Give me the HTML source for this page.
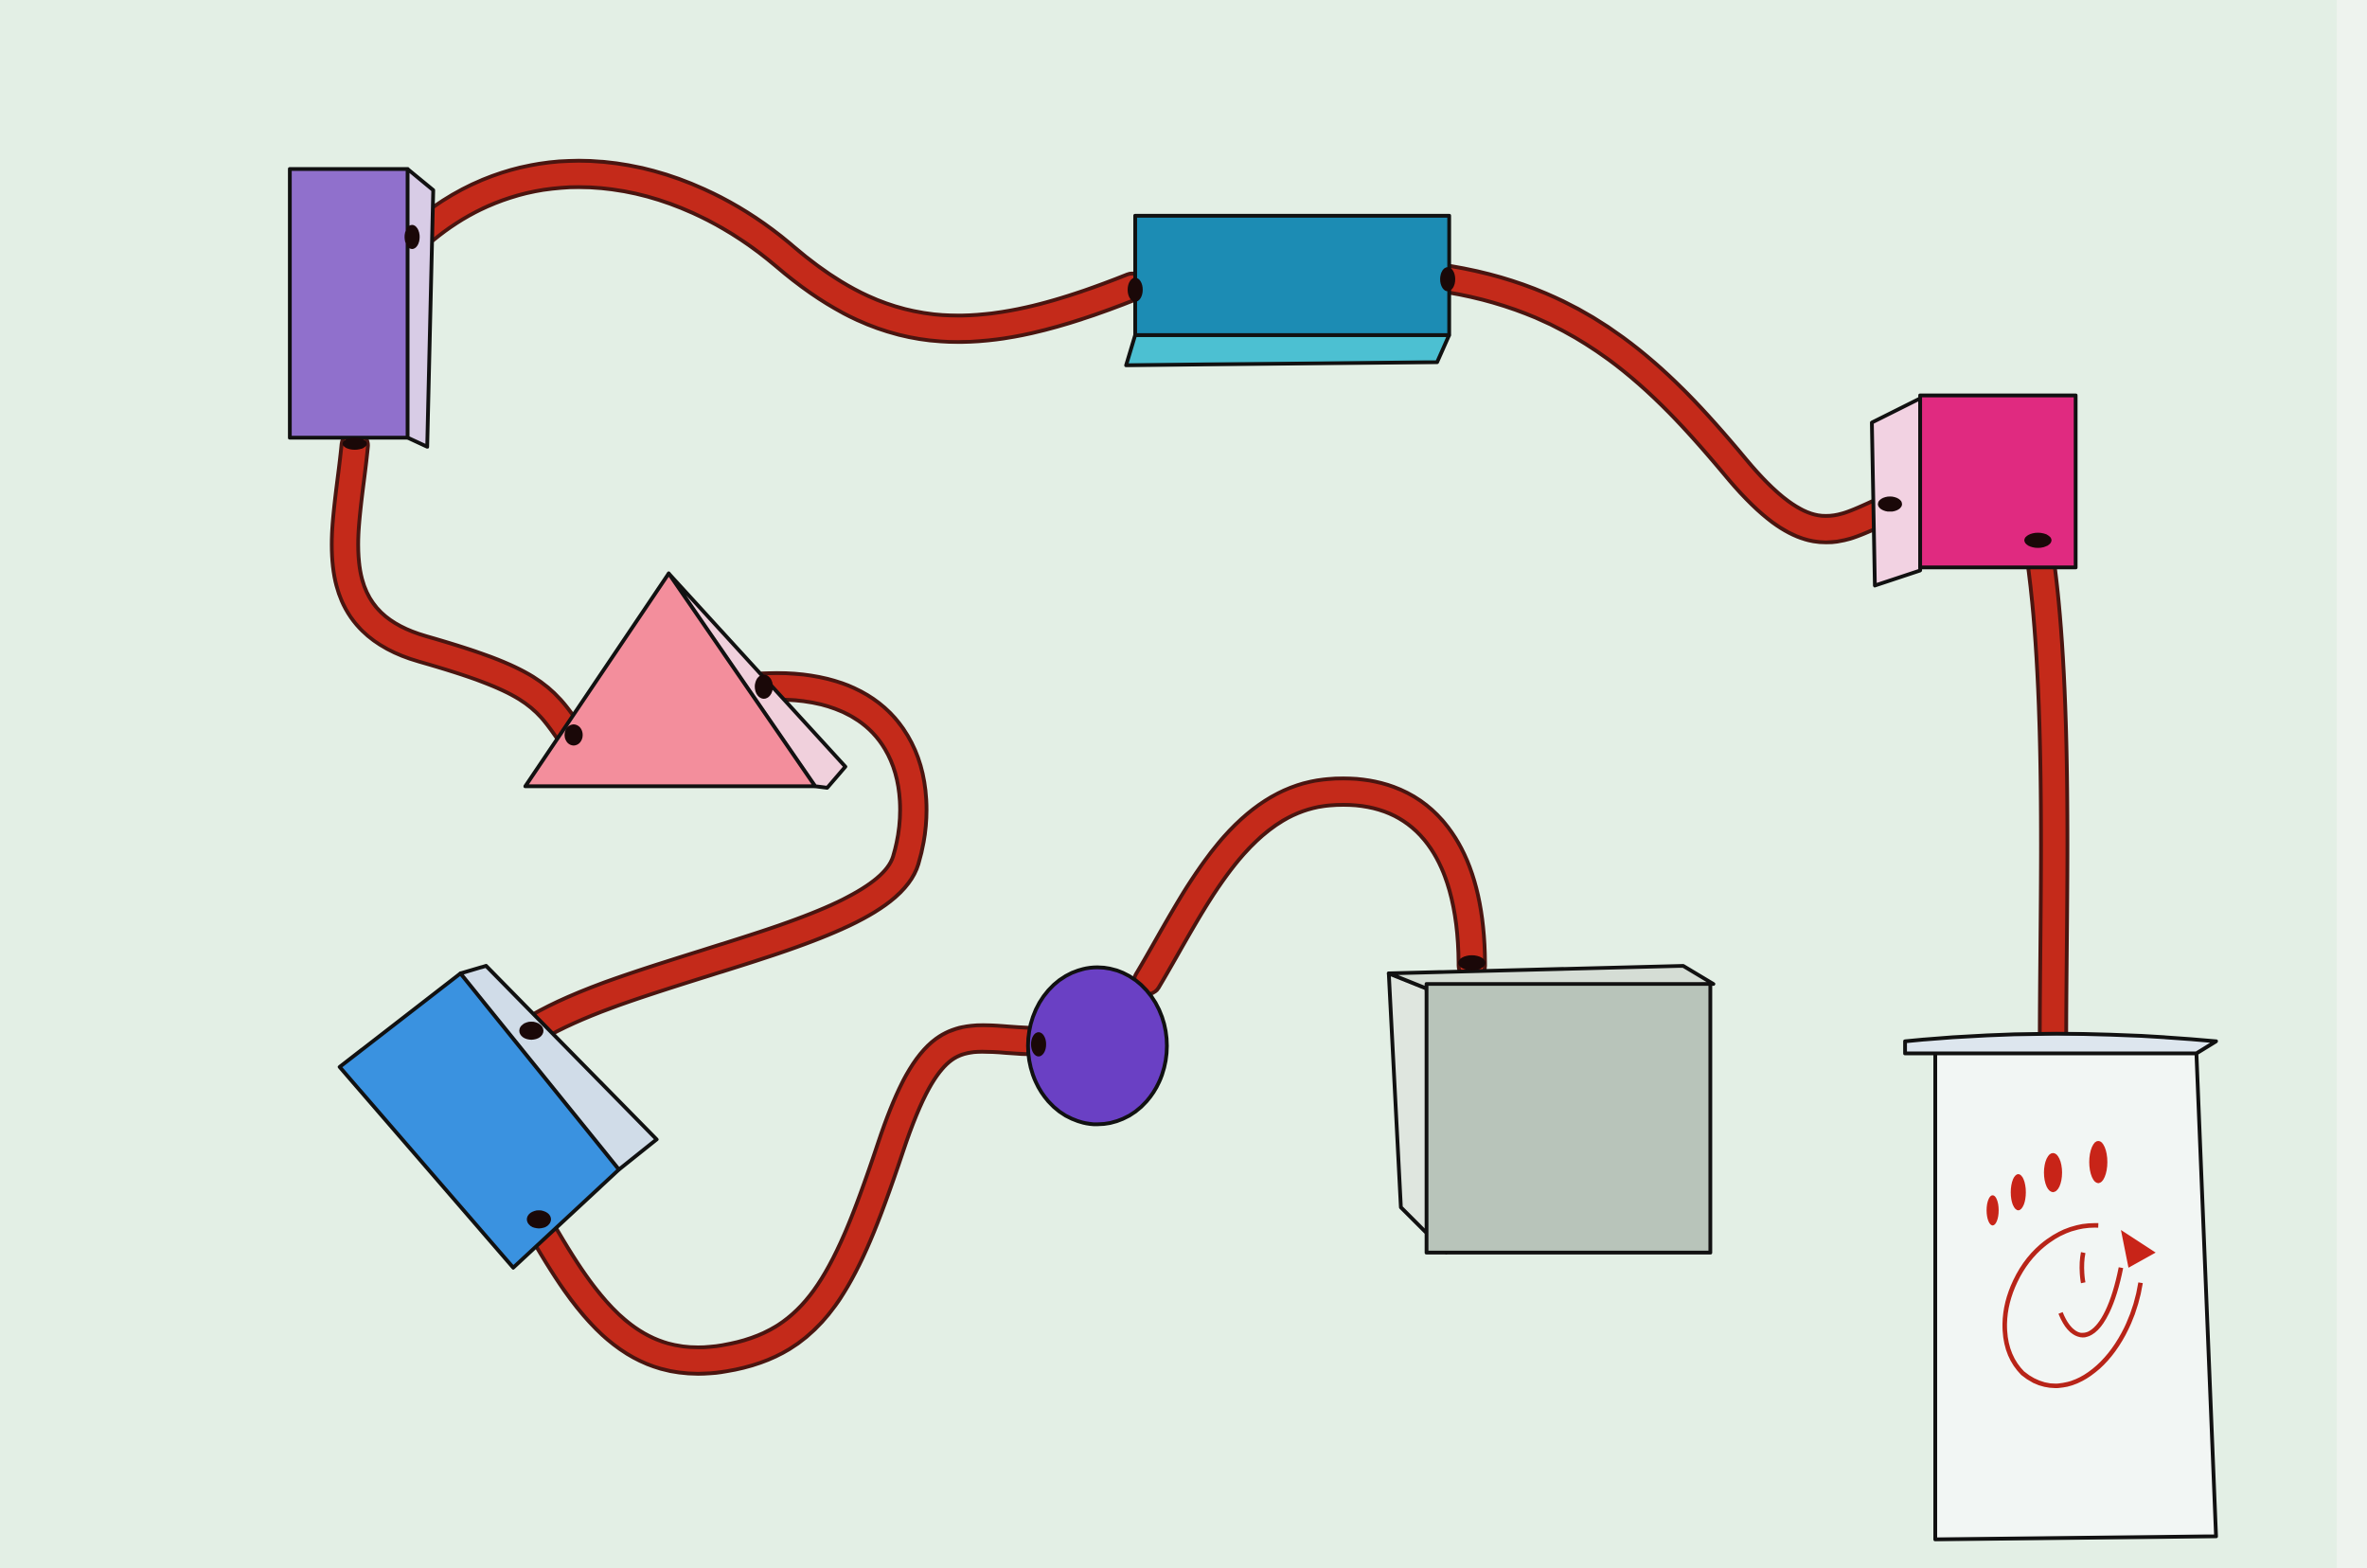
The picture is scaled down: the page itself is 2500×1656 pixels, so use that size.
<!DOCTYPE html>
<html><head><meta charset="utf-8"><style>
html,body{margin:0;padding:0;background:#e3efe5;}
svg{display:block;}
</style></head><body>
<svg width="2500" height="1656" viewBox="0 0 1568 1039" preserveAspectRatio="none" xmlns="http://www.w3.org/2000/svg">
<rect x="0" y="0" width="1568" height="1039" fill="#e3efe5"/>
<rect x="1548" y="0" width="20" height="1039" fill="#eef3ee"/>
<g fill="none" stroke-linecap="round">
<g stroke="#4a1510" stroke-width="20">
<path d="M275,158 C350,90 450,110 520,170 S650,230 750,190"/>
<path d="M960,185 C1050,200 1100,250 1150,310 S1220,350 1255,335"/>
<path d="M1350,360 C1365,450 1360,600 1360,685"/>
<path d="M235,295 C230,350 210,410 280,430 S360,460 378,487"/>
<path d="M505,455 C600,450 615,520 600,570 S420,640 352,683"/>
<path d="M355,808 C390,870 420,910 480,900 S560,850 590,760 S640,690 690,690"/>
<path d="M760,650 C790,600 820,530 880,525 S975,560 975,640"/>
</g>
<g stroke="#c42a1a" stroke-width="15">
<path d="M275,158 C350,90 450,110 520,170 S650,230 750,190"/>
<path d="M960,185 C1050,200 1100,250 1150,310 S1220,350 1255,335"/>
<path d="M1350,360 C1365,450 1360,600 1360,685"/>
<path d="M235,295 C230,350 210,410 280,430 S360,460 378,487"/>
<path d="M505,455 C600,450 615,520 600,570 S420,640 352,683"/>
<path d="M355,808 C390,870 420,910 480,900 S560,850 590,760 S640,690 690,690"/>
<path d="M760,650 C790,600 820,530 880,525 S975,560 975,640"/>
</g>
</g>
<g stroke="#111" stroke-width="2.5" stroke-linejoin="round">
<!-- purple box -->
<polygon points="270,112 287,126 283,296 270,290" fill="#d8cce6"/>
<rect x="192" y="112" width="78" height="178" fill="#9070cc"/>
<!-- teal box -->
<polygon points="752,222 960,222 952,240 746,242" fill="#4cc0d2"/>
<rect x="752" y="143" width="208" height="79" fill="#1c8cb4"/>
<!-- pink cube -->
<polygon points="1240,280 1272,264 1272,378 1242,388" fill="#f2d2e2"/>
<rect x="1272" y="262" width="103" height="114" fill="#e02a80"/>
<!-- triangle -->
<polygon points="443,380 560,508 548,522 540,521" fill="#f0d0dc"/>
<polygon points="348,521 443,380 540,521" fill="#f38e9c"/>
<!-- blue tilted box -->
<polygon points="305,645 322,640 435,755 410,775" fill="#d0dce8"/>
<polygon points="225,707 305,645 410,775 340,840" fill="#3a92e0"/>
<!-- purple circle -->
<ellipse cx="727" cy="693" rx="46" ry="52" fill="#6a40c4"/>
<!-- gray cube -->
<polygon points="920,645 945,655 958,830 928,800" fill="#dfe6df"/>
<polygon points="920,645 1115,640 1135,652 945,655" fill="#d5ddd5"/>
<rect x="945" y="652" width="188" height="178" fill="#b8c4ba"/>
<!-- cup -->
<path d="M1262,690 Q1360,680 1468,690 L1455,698 L1262,698 Z" fill="#dde6ee"/>
<polygon points="1282,698 1455,698 1468,1018 1282,1020" fill="#f2f6f4"/>
</g>
<g fill="#1a0808">
<ellipse cx="273" cy="157" rx="5" ry="8"/>
<ellipse cx="752" cy="192" rx="5" ry="8"/>
<ellipse cx="959" cy="185" rx="5" ry="8"/>
<ellipse cx="1252" cy="334" rx="8" ry="5"/>
<ellipse cx="1350" cy="358" rx="9" ry="5"/>
<ellipse cx="235" cy="294" rx="8" ry="4"/>
<ellipse cx="380" cy="487" rx="6" ry="7"/>
<ellipse cx="506" cy="455" rx="6" ry="8"/>
<ellipse cx="352" cy="683" rx="8" ry="6"/>
<ellipse cx="357" cy="808" rx="8" ry="6"/>
<ellipse cx="688" cy="692" rx="5" ry="8"/>
<ellipse cx="975" cy="638" rx="9" ry="5"/>
</g>
<!-- logo -->
<g fill="#c82418">
<ellipse cx="1320" cy="802" rx="4" ry="10"/>
<ellipse cx="1337" cy="790" rx="5" ry="12"/>
<ellipse cx="1360" cy="777" rx="6" ry="13"/>
<ellipse cx="1390" cy="770" rx="6" ry="14"/>
<polygon points="1405,815 1428,830 1410,840"/>
</g>
<g fill="none" stroke="#b82418" stroke-width="3">
<path d="M1390,812 C1340,810 1310,880 1340,910 C1370,935 1410,900 1418,850"/>
<path d="M1380,830 C1378,840 1380,850 1380,850"/>
<path d="M1365,870 C1375,895 1395,890 1405,840"/>
</g>
</svg>
</body></html>
